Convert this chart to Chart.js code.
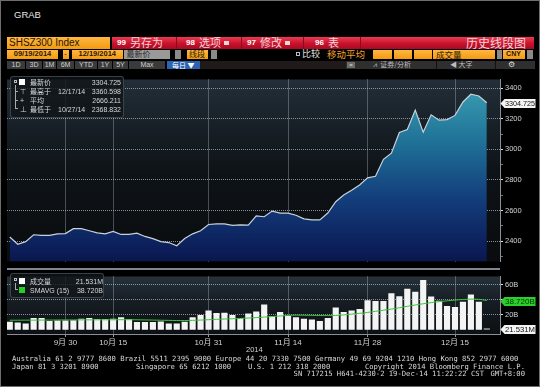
<!DOCTYPE html>
<html>
<head>
<meta charset="utf-8">
<script src="https://cdn.jsdelivr.net/npm/chart.js@4.4.0/dist/chart.umd.min.js"></script>
<style>
  body { margin: 0; width: 540px; height: 387px; background: #000; position: relative; overflow: hidden;
         font-family: "Liberation Sans", "Noto Sans CJK SC", sans-serif; }
  .a { position: absolute; white-space: nowrap; box-sizing: border-box; }
  .n { font-family: "Liberation Sans Narrow", "Liberation Sans", "Noto Sans CJK SC", sans-serif; }
  .cjk { font-family: "Noto Sans CJK SC", sans-serif; }
  .mono { font-family: "DejaVu Sans Mono", monospace; font-size: 7.2px; color: #d8d8d8; line-height: 8px; }
  .og { background: linear-gradient(#ffb741, #f39a12); color: #2a1700; }
  .btn { background: #3a3a3a; color: #cfcfcf; font-size: 7px; line-height: 8.3px; text-align: center; top: 61px; height: 8.3px; }
  .lg { font-size: 7px; color: #d4d8dc; line-height: 9px; }
  canvas { position: absolute; left: 0; }
</style>
</head>
<body>

<!-- title + toolbars -->
<div class="a" style="left:14px;top:9px;font-size:9.5px;color:#e6e6e6;">GRAB</div>

<div class="a og" style="left:7px;top:37px;width:103px;height:11.5px;font-size:10px;line-height:11.5px;padding-left:2px;">SHSZ300 Index</div>
<div class="a" style="left:112px;top:37px;width:422px;height:11.5px;background:linear-gradient(#ec3a50,#c8122c 55%,#a50b22);"></div>
<div class="a" style="left:176px;top:37px;width:1px;height:11.5px;background:#8a0a1c;"></div>
<div class="a" style="left:241px;top:37px;width:1px;height:11.5px;background:#8a0a1c;"></div>
<div class="a" style="left:303px;top:37px;width:1px;height:11.5px;background:#8a0a1c;"></div>
<div class="a" style="left:360px;top:37px;width:1px;height:11.5px;background:#8a0a1c;"></div>
<div class="a" style="left:117px;top:37px;font-size:8px;line-height:11.5px;color:#fff;font-weight:bold;">99</div>
<div class="a cjk" style="left:130px;top:36px;font-size:11px;line-height:13px;color:#f7d3d8;">另存为</div>
<div class="a" style="left:186px;top:37px;font-size:8px;line-height:11.5px;color:#fff;font-weight:bold;">98</div>
<div class="a cjk" style="left:199px;top:36px;font-size:11px;line-height:13px;color:#f7d3d8;">选项</div>
<div class="a" style="left:224px;top:40.5px;width:5px;height:4px;background:#f4d4d8;"></div>
<div class="a" style="left:247px;top:37px;font-size:8px;line-height:11.5px;color:#fff;font-weight:bold;">97</div>
<div class="a cjk" style="left:260px;top:36px;font-size:11px;line-height:13px;color:#f7d3d8;">修改</div>
<div class="a" style="left:285px;top:40.5px;width:5px;height:4px;background:#f4d4d8;"></div>
<div class="a" style="left:315px;top:37px;font-size:8px;line-height:11.5px;color:#fff;font-weight:bold;">96</div>
<div class="a cjk" style="left:328px;top:36px;font-size:11px;line-height:13px;color:#f7d3d8;">表</div>
<div class="a cjk" style="left:466px;top:35.5px;font-size:12px;line-height:13px;color:#f7d3d8;">历史线段图</div>

<div class="a og" style="left:7px;top:50px;width:51px;height:8.5px;font-size:7.5px;line-height:8.5px;text-align:center;font-weight:bold;">09/19/2014</div>
<div class="a og" style="left:62.5px;top:50px;width:6px;height:8.5px;font-size:7px;line-height:8.5px;text-align:center;">-</div>
<div class="a og" style="left:71.5px;top:50px;width:51.5px;height:8.5px;font-size:7.5px;line-height:8.5px;text-align:center;font-weight:bold;">12/19/2014</div>
<div class="a cjk" style="left:123.5px;top:50px;width:46.5px;height:8.5px;background:#9a9a9a;color:#2a2a2a;font-size:8px;line-height:8.5px;padding-left:3px;">最新价</div>
<div class="a" style="left:175px;top:50px;width:6px;height:8.5px;background:#8a8a8a;"></div>
<div class="a og cjk" style="left:187px;top:50px;width:21px;height:8.5px;font-size:8px;line-height:8.5px;padding-left:2px;">线段</div>
<div class="a" style="left:211px;top:50px;width:6px;height:8.5px;background:#8a8a8a;"></div>
<div class="a" style="left:296px;top:52px;width:4px;height:4px;border:1px solid #bbb;"></div>
<div class="a cjk" style="left:302px;top:49px;font-size:9px;line-height:10px;color:#e2e2e2;">比较</div>
<div class="a cjk" style="left:327px;top:49px;font-size:9.5px;line-height:10px;color:#f0a22c;">移动平均</div>
<div class="a og" style="left:373px;top:50px;width:19px;height:8.5px;"></div>
<div class="a og" style="left:394px;top:50px;width:18px;height:8.5px;"></div>
<div class="a og" style="left:413.5px;top:50px;width:18px;height:8.5px;"></div>
<div class="a og cjk" style="left:433px;top:50px;width:62px;height:8.5px;font-size:8.5px;line-height:8.5px;padding-left:3px;">成交量</div>
<div class="a" style="left:496.5px;top:50px;width:5px;height:8.5px;background:#8a8a8a;"></div>
<div class="a og" style="left:502.5px;top:50px;width:22px;height:8.5px;font-size:7px;line-height:8.5px;text-align:center;font-weight:bold;">CNY</div>
<div class="a" style="left:527px;top:50px;width:6px;height:8.5px;background:#8a8a8a;"></div>

<div class="a btn" style="left:7px;width:18px;">1D</div>
<div class="a btn" style="left:26px;width:16px;">3D</div>
<div class="a btn" style="left:43px;width:13px;">1M</div>
<div class="a btn" style="left:57px;width:17px;">6M</div>
<div class="a btn" style="left:75px;width:22px;">YTD</div>
<div class="a btn" style="left:98px;width:14px;">1Y</div>
<div class="a btn" style="left:113px;width:15px;">5Y</div>
<div class="a btn" style="left:129px;width:36px;">Max</div>
<div class="a cjk" style="left:167px;top:61px;width:33px;height:8.3px;background:#2c63b3;color:#fff;font-size:7px;line-height:8.3px;padding-left:5px;">每日 ▼</div>
<div class="a" style="left:200px;top:61px;width:146px;height:8.3px;background:#211a1a;"></div>
<div class="a" style="left:346px;top:61px;width:189px;height:8.3px;background:#2f2f2f;"></div>
<div class="a" style="left:347px;top:62px;width:8px;height:6.3px;background:#6b6b6b;color:#ddd;font-size:6px;line-height:6px;text-align:center;">=</div>
<div class="a cjk" style="left:373px;top:60px;font-size:7px;line-height:9px;color:#bdbdbd;">⩘ &nbsp;证券/分析</div>
<div class="a" style="left:436px;top:61px;width:1px;height:8.3px;background:#111;"></div>
<div class="a cjk" style="left:450px;top:60px;font-size:7px;line-height:9px;color:#bdbdbd;">◀ 大字</div>
<div class="a" style="left:495px;top:61px;width:1px;height:8.3px;background:#111;"></div>
<div class="a" style="left:508px;top:60px;font-size:8px;line-height:9px;color:#ddd;">⚙</div>

<canvas id="main" width="540" height="195" style="top:73px;"></canvas>
<div class="a" style="left:7px;top:268px;width:493px;height:2px;background:#7e8790;"></div>
<canvas id="vol" width="540" height="88" style="top:270px;"></canvas>

<!-- legend, price panel -->
<div class="a" style="left:10px;top:76px;width:114px;height:42px;background:rgba(16,20,24,0.8);border:1px solid rgba(95,105,115,0.55);border-radius:3px;"></div>
<div class="a" style="left:14px;top:80px;width:3px;height:3px;border:1px solid #bbb;"></div>
<div class="a" style="left:19px;top:79px;width:6px;height:6px;background:#fff;"></div>
<div class="a" style="left:15px;top:85px;width:3px;height:24px;border-left:1px solid #aaa;border-bottom:1px solid #aaa;"></div>
<div class="a" style="left:15px;top:91px;width:3px;height:1px;background:#aaa;"></div>
<div class="a" style="left:15px;top:100px;width:3px;height:1px;background:#aaa;"></div>
<div class="a lg n" style="left:20px;top:86.5px;">⊤</div>
<div class="a lg n" style="left:20px;top:95.5px;">+</div>
<div class="a lg n" style="left:20px;top:104.5px;">⊥</div>
<div class="a lg cjk" style="left:30px;top:77.5px;">最新价</div>
<div class="a lg cjk" style="left:30px;top:86.5px;">最高于</div>
<div class="a lg cjk" style="left:30px;top:95.5px;">平均</div>
<div class="a lg cjk" style="left:30px;top:104.5px;">最低于</div>
<div class="a lg n" style="left:58px;top:86.5px;">12/17/14</div>
<div class="a lg n" style="left:58px;top:104.5px;">10/27/14</div>
<div class="a lg n" style="right:419px;top:77.5px;">3304.725</div>
<div class="a lg n" style="right:419px;top:86.5px;">3360.598</div>
<div class="a lg n" style="right:419px;top:95.5px;">2666.211</div>
<div class="a lg n" style="right:419px;top:104.5px;">2368.832</div>

<!-- legend, volume panel -->
<div class="a" style="left:10px;top:273px;width:94px;height:25px;background:rgba(16,20,24,0.8);border:1px solid rgba(95,105,115,0.55);border-radius:3px;"></div>
<div class="a" style="left:14px;top:278px;width:3px;height:3px;border:1px solid #bbb;"></div>
<div class="a" style="left:19px;top:277.5px;width:6px;height:6px;background:#fff;"></div>
<div class="a" style="left:15px;top:283px;width:3px;height:7px;border-left:1px solid #aaa;border-bottom:1px solid #aaa;"></div>
<div class="a" style="left:19px;top:286.5px;width:6px;height:6px;background:#22d022;"></div>
<div class="a lg cjk" style="left:30px;top:276.5px;">成交量</div>
<div class="a lg n" style="left:30px;top:285.5px;">SMAVG (15)</div>
<div class="a lg n" style="right:437px;top:276.5px;">21.531M</div>
<div class="a lg n" style="right:437px;top:285.5px;">38.720B</div>

<div class="a n" style="left:246px;top:345px;font-size:7.5px;line-height:9px;color:#d0d0d0;">2014</div>

<!-- footer -->
<div class="a mono" style="left:12px;top:355px;">Australia 61 2 9777 8600 Brazil 5511 2395 9000 Europe 44 20 7330 7500 Germany 49 69 9204 1210 Hong Kong 852 2977 6000</div>
<div class="a mono" style="left:12px;top:362.5px;">Japan 81 3 3201 8900</div>
<div class="a mono" style="left:136px;top:362.5px;">Singapore 65 6212 1000</div>
<div class="a mono" style="left:248px;top:362.5px;">U.S. 1 212 318 2000</div>
<div class="a mono" style="right:15px;top:362.5px;">Copyright 2014 Bloomberg Finance L.P.</div>
<div class="a mono" style="right:56px;top:370px;">SN 717215 H641-4230-2 19-Dec-14 11:22:22 CST</div>
<div class="a mono" style="right:15px;top:370px;">GMT+8:00</div>

<div class="a" style="left:0;top:0;width:540px;height:387px;border:1px solid #6e6e6e;"></div>

<script>
// SHSZ300 Index, daily, 09/19/2014 - 12/19/2014 (61 trading days)
const closes = [
  2426, 2379, 2396, 2441, 2437, 2437, 2447, 2449, 2481, 2481,
  2467, 2453, 2447, 2463, 2443, 2443, 2451, 2430, 2416, 2396,
  2390, 2368.832, 2416, 2447, 2467, 2508, 2512, 2512, 2502, 2506,
  2504, 2565, 2559, 2596, 2583, 2583, 2569, 2545, 2538, 2538,
  2583, 2657, 2701, 2732, 2767, 2813, 2824, 2935, 2975, 3110,
  3130, 3257, 3112, 3226, 3191, 3195, 3222, 3310, 3360.598, 3349,
  3304.725
];
// 成交量, billions
const volumes = [
  10.0, 8.8, 7.6, 14.8, 14.8, 10.8, 11.6, 11.6, 12.0, 14.0,
  14.8, 13.6, 13.6, 14.0, 16.0, 13.6, 9.6, 9.6, 9.6, 10.4,
  7.6, 7.6, 10.0, 16.0, 18.8, 24.8, 21.6, 22.0, 18.8, 14.8,
  20.8, 23.6, 32.8, 17.6, 22.8, 17.6, 16.0, 14.0, 12.8, 10.8,
  14.8, 28.8, 22.8, 24.8, 26.8, 38.8, 37.6, 37.6, 48.0, 44.0,
  54.0, 50.0, 65.6, 43.6, 38.0, 30.8, 29.6, 36.8, 46.4, 36.8,
  0.021531
];
// SMAVG (15), billions
const smavg = [
  12.4, 12.4, 12.5, 12.5, 12.6, 12.6, 12.7, 12.8, 12.8, 12.9,
  12.9, 13.0, 13.0, 13.0, 13.1, 13.1, 13.0, 12.8, 12.6, 12.4,
  12.2, 12.0, 12.0, 12.2, 12.6, 13.1, 13.6, 14.0, 14.4, 14.8,
  15.3, 15.9, 16.6, 17.3, 18.1, 18.8, 19.2, 19.1, 18.9, 18.7,
  18.6, 18.8, 19.5, 20.6, 21.6, 22.8, 24.3, 25.8, 27.3, 29.0,
  31.0, 32.7, 34.4, 35.9, 37.2, 38.3, 39.3, 40.1, 40.6, 40.3,
  38.72
];
// date ticks: index of the trading day and its label
const tickIdx = [7, 13, 25, 35, 45, 56];
const tickLabels = ['9月 30', '10月 15', '10月 31', '11月 14', '11月 28', '12月 15'];
const priceTicks = [2300, 2400, 2500, 2600, 2700, 2800, 2900, 3000, 3100, 3200, 3300, 3400];
const volTicks = [20, 40, 60];

Chart.defaults.font.family = '"Liberation Sans Narrow", "Liberation Sans", "Noto Sans CJK SC", sans-serif';
Chart.defaults.font.size = 7.5;
Chart.defaults.color = '#cfd3d6';

const GRID = 'rgba(185,195,205,0.7)';

const plotBg = {
  id: 'plotBg',
  beforeDraw(chart, args, opts) {
    const { ctx, chartArea: a } = chart;
    const g = ctx.createLinearGradient(0, a.top, 0, a.bottom);
    opts.stops.forEach(s => g.addColorStop(s[0], s[1]));
    ctx.save();
    ctx.fillStyle = g;
    ctx.fillRect(a.left, a.top, a.right - a.left, a.bottom - a.top);
    ctx.restore();
  }
};

// value boxes on the right axis
const valueTags = {
  id: 'valueTags',
  afterDraw(chart, args, opts) {
    const { ctx, chartArea: a } = chart;
    const y = chart.scales.y;
    ctx.save();
    opts.tags.forEach(t => {
      const py = Math.round(y.getPixelForValue(t.value)) + 0.5;
      const x0 = a.right + 0.5, w = 35, h = 9;
      ctx.fillStyle = t.bg;
      ctx.beginPath();
      ctx.moveTo(x0, py);
      ctx.lineTo(x0 + 4, py - h / 2);
      ctx.lineTo(x0 + w, py - h / 2);
      ctx.lineTo(x0 + w, py + h / 2);
      ctx.lineTo(x0 + 4, py + h / 2);
      ctx.closePath();
      ctx.fill();
      ctx.fillStyle = t.color;
      ctx.font = '8px "Liberation Sans Narrow", "Liberation Sans", sans-serif';
      ctx.textBaseline = 'middle';
      ctx.fillText(t.text, x0 + 4.5, py + 0.5, w - 5);
    });
    ctx.restore();
  }
};

function xScale(showLabels) {
  return {
    type: 'linear',
    offset: false,
    min: -0.35,
    max: 61.66,
    afterBuildTicks: s => { s.ticks = tickIdx.map(v => ({ value: v })); },
    afterFit: s => { s.height = showLabels ? 24 : 0; },
    ticks: {
      display: showLabels,
      autoSkip: false,
      maxRotation: 0,
      padding: 1,
      color: '#d2d2d2',
      font: { size: 8 },
      callback: v => tickLabels[tickIdx.indexOf(v)]
    },
    grid: { offset: false, color: GRID, drawTicks: showLabels, tickLength: 3, tickColor: '#9a9a9a' },
    border: { display: showLabels, color: '#8a9096', dash: [1, 1] }
  };
}

new Chart(document.getElementById('main'), {
  type: 'line',
  data: {
    datasets: [{
      data: closes.map((v, i) => ({ x: i, y: v })),
      borderColor: '#c8d2da',
      borderWidth: 1.2,
      pointRadius: 0,
      tension: 0,
      fill: 'start',
      backgroundColor: c => {
        const a = c.chart.chartArea;
        if (!a) return 'rgba(0,0,0,0)';
        const g = c.chart.ctx.createLinearGradient(0, a.top, 0, a.bottom);
        g.addColorStop(0, '#3ca3b4');
        g.addColorStop(0.35, '#1f7096');
        g.addColorStop(0.65, '#133e7c');
        g.addColorStop(1, '#0a1650');
        return g;
      }
    }]
  },
  options: {
    responsive: false,
    animation: false,
    layout: { padding: { left: 7, right: 0, top: 0, bottom: 0 } },
    plugins: {
      legend: { display: false },
      tooltip: { enabled: false },
      plotBg: { stops: [[0, '#222e38'], [0.5, '#0e1317'], [1, '#0a0c0f']] },
      valueTags: { tags: [{ value: closes[closes.length - 1], text: '3304.725', bg: '#f4f4f4', color: '#111' }] }
    },
    scales: {
      x: xScale(false),
      y: {
        position: 'right',
        min: 2266,
        max: 3457,
        afterBuildTicks: s => { s.ticks = priceTicks.map(v => ({ value: v })); },
        afterFit: s => { s.width = 40; },
        ticks: { padding: 2, callback: v => (v % 200 === 0 ? v : '') },
        grid: {
          color: c => (c.tick && c.tick.value % 200 === 0 ? GRID : 'rgba(0,0,0,0)'),
          tickLength: 3,
          tickColor: c => (c.tick && c.tick.value % 200 === 0 ? '#e0e0e0' : '#777')
        },
        border: { display: true, color: '#8a9096', dash: [1, 1] }
      }
    }
  },
  plugins: [plotBg, valueTags]
});

new Chart(document.getElementById('vol'), {
  type: 'bar',
  data: {
    datasets: [
      {
        type: 'line',
        data: smavg.map((v, i) => ({ x: i, y: v })),
        borderColor: '#3cc43c',
        borderWidth: 1,
        pointRadius: 0,
        tension: 0.3,
        order: 0
      },
      {
        data: volumes.map((v, i) => ({ x: i, y: v })),
        backgroundColor: c => (c.dataIndex === volumes.length - 1 ? '#9a9a9a' : '#f4f4f4'),
        barThickness: 5.5,
        minBarLength: 1,
        order: 1
      }
    ]
  },
  options: {
    responsive: false,
    animation: false,
    layout: { padding: { left: 7, right: 0, top: 0, bottom: 0 } },
    plugins: {
      legend: { display: false },
      tooltip: { enabled: false },
      plotBg: { stops: [[0, '#27323b'], [0.45, '#151c22'], [1, '#0c1014']] },
      valueTags: {
        tags: [
          { value: smavg[smavg.length - 1], text: '38.720B', bg: '#2bd02b', color: '#063006' },
          { value: volumes[volumes.length - 1], text: '21.531M', bg: '#f4f4f4', color: '#111' }
        ]
      }
    },
    scales: {
      x: xScale(true),
      y: {
        position: 'right',
        min: -6,
        max: 70.8,
        afterBuildTicks: s => { s.ticks = volTicks.map(v => ({ value: v })); },
        afterFit: s => { s.width = 40; },
        ticks: { padding: 2, callback: v => (v === 40 ? '' : v + 'B') },
        grid: { color: GRID, tickLength: 3, tickColor: '#e0e0e0' },
        border: { display: true, color: '#8a9096', dash: [1, 1] }
      }
    }
  },
  plugins: [plotBg, valueTags]
});
</script>
</body>
</html>
